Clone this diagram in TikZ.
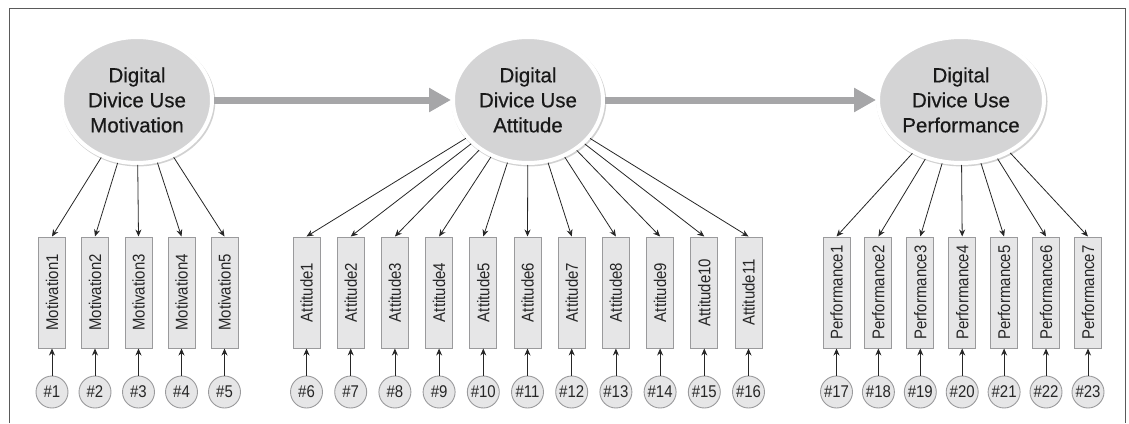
\documentclass[tikz,border=0pt]{standalone}
\usepackage{fontspec}
\setmainfont{Liberation Sans}
\newfontfamily\latentfont[FakeBold=0.4]{Liberation Sans}
\newfontfamily\itemfont[FakeStretch=0.88]{Liberation Sans}
\usetikzlibrary{shapes.geometric,arrows.meta,shadows}
\definecolor{latentfill}{HTML}{D4D4D5}
\definecolor{boxfill}{HTML}{E6E6E7}
\definecolor{boxline}{HTML}{9A9A9C}
\definecolor{pathgray}{HTML}{A6A6A8}
\definecolor{framegray}{HTML}{5A5A5A}
\tikzset{
  latent/.style={ellipse, fill=latentfill, draw=white, line width=4pt,
    minimum width=150pt, minimum height=126pt, align=center, inner sep=0pt,
    font=\latentfont\fontsize{20.5}{25}\selectfont, text=black!90,
    drop shadow={shadow xshift=1pt, shadow yshift=-1.5pt, shadow scale=1.03,
      fill=black, opacity=0.18}},
  item/.style={rectangle, rotate=90, fill=boxfill, draw=boxline, line width=1pt,
    minimum width=111pt, minimum height=27pt, inner sep=0pt,
    font=\itemfont\fontsize{17}{20}\selectfont, text=black!85},
  err/.style={circle, fill=boxfill, draw=boxline, line width=0.9pt,
    minimum size=32pt, inner sep=0pt, font=\itemfont\fontsize{17}{20}\selectfont,
    text=black!85},
  load/.style={draw=black!85, line width=0.8pt,
    -{Stealth[length=7pt,width=6pt]}},
  path/.style={draw=pathgray, line width=7pt,
    -{Triangle[length=22pt,width=23pt]}}
}
\begin{document}
\begin{tikzpicture}[x=1pt,y=-1pt]
      \useasboundingbox (0,0) rectangle (1129,423);
      \draw[framegray, line width=1pt] (9,423) -- (9,8) -- (1125,8) -- (1125,423);
      % latent variables
      \draw
        (137,100) node[latent] (m){Digital\\Divice Use\\Motivation}
        (528,100) node[latent] (a){Digital\\Divice Use\\Attitude}
        (961,100) node[latent] (p){Digital\\Divice Use\\Performance};
      % observed items
      \draw
        (52,292.5) node[item] (m1){Motivation1}
        (95,292.5) node[item] (m2){Motivation2}
        (138.5,292.5) node[item] (m3){Motivation3}
        (181.5,292.5) node[item] (m4){Motivation4}
        (224.5,292.5) node[item] (m5){Motivation5}
        (306.5,292.5) node[item] (a1){Attitude1}
        (350.7,292.5) node[item] (a2){Attitude2}
        (394.9,292.5) node[item] (a3){Attitude3}
        (439.1,292.5) node[item] (a4){Attitude4}
        (483.3,292.5) node[item] (a5){Attitude5}
        (527.5,292.5) node[item] (a6){Attitude6}
        (571.7,292.5) node[item] (a7){Attitude7}
        (615.9,292.5) node[item] (a8){Attitude8}
        (660.1,292.5) node[item] (a9){Attitude9}
        (704.3,292.5) node[item] (a10){Attitude10}
        (748.5,292.5) node[item] (a11){Attitude11}
        (836.5,292.5) node[item] (p1){Performance1}
        (878.4,292.5) node[item] (p2){Performance2}
        (920.3,292.5) node[item] (p3){Performance3}
        (962.2,292.5) node[item] (p4){Performance4}
        (1004.1,292.5) node[item] (p5){Performance5}
        (1046,292.5) node[item] (p6){Performance6}
        (1088,292.5) node[item] (p7){Performance7};
      % errors
      \draw
        (52,392) node[err] (e1){\#1}
        (95,392) node[err] (e2){\#2}
        (138.5,392) node[err] (e3){\#3}
        (181.5,392) node[err] (e4){\#4}
        (224.5,392) node[err] (e5){\#5}
        (306.5,392) node[err] (e6){\#6}
        (350.7,392) node[err] (e7){\#7}
        (394.9,392) node[err] (e8){\#8}
        (439.1,392) node[err] (e9){\#9}
        (483.3,392) node[err] (e10){\#10}
        (527.5,392) node[err] (e11){\#11}
        (571.7,392) node[err] (e12){\#12}
        (615.9,392) node[err] (e13){\#13}
        (660.1,392) node[err] (e14){\#14}
        (704.3,392) node[err] (e15){\#15}
        (748.5,392) node[err] (e16){\#16}
        (836.5,392) node[err] (e17){\#17}
        (878.4,392) node[err] (e18){\#18}
        (920.3,392) node[err] (e19){\#19}
        (962.2,392) node[err] (e20){\#20}
        (1004.1,392) node[err] (e21){\#21}
        (1046,392) node[err] (e22){\#22}
        (1088,392) node[err] (e23){\#23};
      \begin{scope}[path]
        \draw (m) to (a);
        \draw (a) to (p);
      \end{scope}
      \begin{scope}[load]
        \draw (m) to (m1.east);
        \draw (m) to (m2.east);
        \draw (m) to (m3.east);
        \draw (m) to (m4.east);
        \draw (m) to (m5.east);
        \draw (a) to (a1.east);
        \draw (a) to (a2.east);
        \draw (a) to (a3.east);
        \draw (a) to (a4.east);
        \draw (a) to (a5.east);
        \draw (a) to (a6.east);
        \draw (a) to (a7.east);
        \draw (a) to (a8.east);
        \draw (a) to (a9.east);
        \draw (a) to (a10.east);
        \draw (a) to (a11.east);
        \draw (p) to (p1.east);
        \draw (p) to (p2.east);
        \draw (p) to (p3.east);
        \draw (p) to (p4.east);
        \draw (p) to (p5.east);
        \draw (p) to (p6.east);
        \draw (p) to (p7.east);
        \draw (e1) to (m1.west);
        \draw (e2) to (m2.west);
        \draw (e3) to (m3.west);
        \draw (e4) to (m4.west);
        \draw (e5) to (m5.west);
        \draw (e6) to (a1.west);
        \draw (e7) to (a2.west);
        \draw (e8) to (a3.west);
        \draw (e9) to (a4.west);
        \draw (e10) to (a5.west);
        \draw (e11) to (a6.west);
        \draw (e12) to (a7.west);
        \draw (e13) to (a8.west);
        \draw (e14) to (a9.west);
        \draw (e15) to (a10.west);
        \draw (e16) to (a11.west);
        \draw (e17) to (p1.west);
        \draw (e18) to (p2.west);
        \draw (e19) to (p3.west);
        \draw (e20) to (p4.west);
        \draw (e21) to (p5.west);
        \draw (e22) to (p6.west);
        \draw (e23) to (p7.west);
      \end{scope}
    \end{tikzpicture}
\end{document}
